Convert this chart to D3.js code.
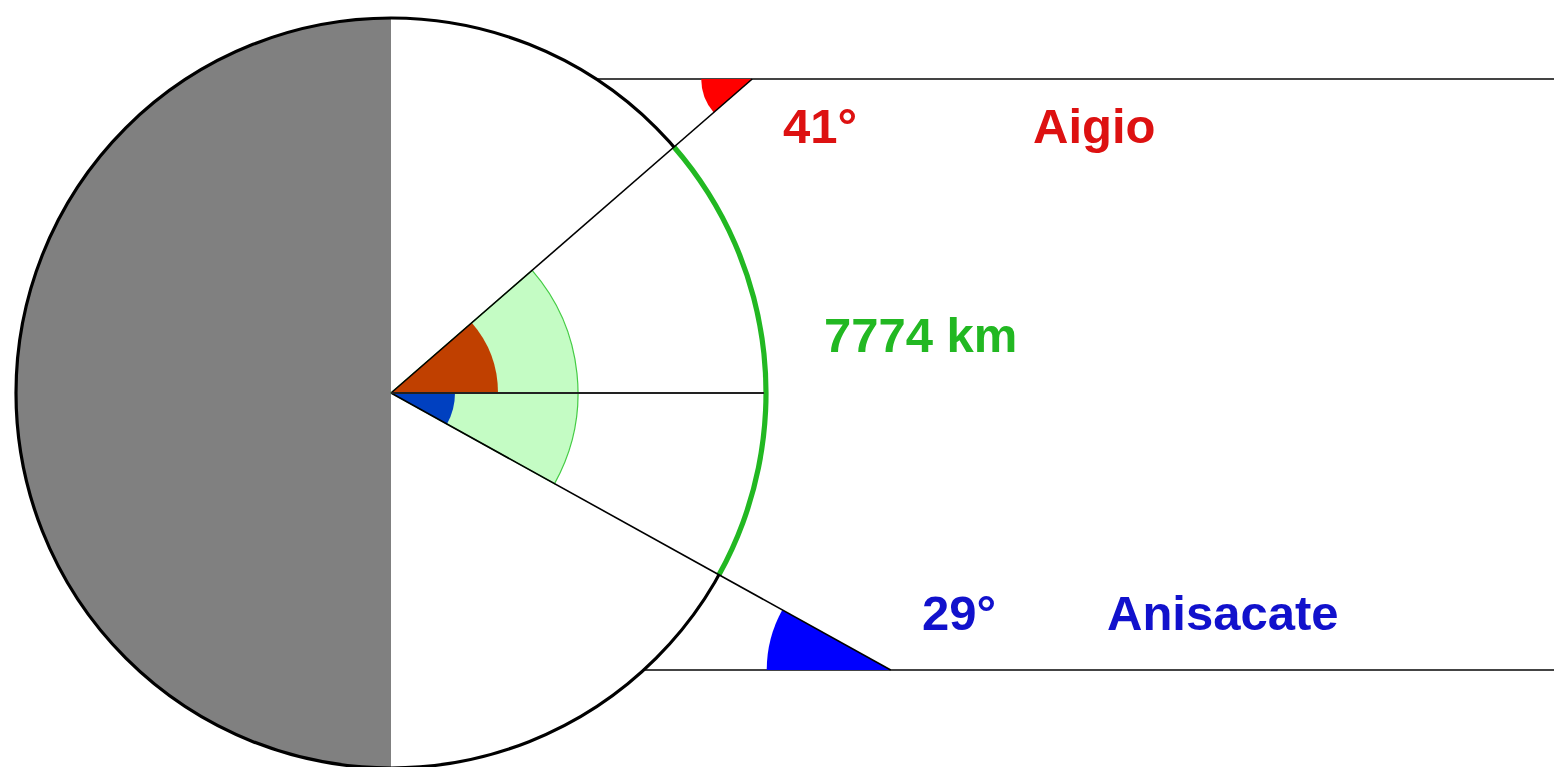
<!DOCTYPE html>
<html>
<head>
<meta charset="utf-8">
<script src="https://cdn.jsdelivr.net/npm/d3@7"></script>
<style>
  body { margin: 0; background: #fff; }
  svg { display: block; }
  text { font-family: Arial, "Liberation Sans", sans-serif; font-weight: bold; }
</style>
</head>
<body>
<div id="chart"></div>
<script>
// Data
const places = ["Aigio", "Anisacate"];
const sunAngles = [41, 29];          // degrees above / below the horizon line
const angleLabels = ["41°", "29°"];
const distanceLabel = "7774 km";

const width = 1554;
const height = 767;

const svg = d3.select("#chart")
  .append("svg")
    .attr("width", width)
    .attr("height", height);

// geometry
const cx = 391, cy = 393, R = 375;
const rayY = [79, 670];               // y of the two sun rays
const deg = d => d * Math.PI / 180;

// direction of each radius, d3.arc convention (0 = up, clockwise)
const dirTop = deg(90 - sunAngles[0]);
const dirBottom = deg(90 + sunAngles[1]);

// Earth: grey night side
svg.append("path")
  .attr("d", d3.arc()({innerRadius: 0, outerRadius: R, startAngle: Math.PI, endAngle: 2 * Math.PI}))
  .attr("transform", `translate(${cx},${cy})`)
  .attr("fill", "#808080");

// sun rays (horizontal lines starting on the circle)
rayY.forEach(y => {
  const dy = y - cy;
  const x0 = cx + Math.sqrt(R * R - dy * dy);
  svg.append("line")
    .attr("x1", x0).attr("y1", y)
    .attr("x2", width).attr("y2", y)
    .attr("stroke", "#444")
    .attr("stroke-width", 2.2);
});

const center = svg.append("g").attr("transform", `translate(${cx},${cy})`);

// light green central angle
center.append("path")
  .attr("d", d3.arc()({innerRadius: 0, outerRadius: 187, startAngle: dirTop, endAngle: dirBottom}))
  .attr("fill", "#c4fcc4")
  .attr("stroke", "#44cc44")
  .attr("stroke-width", 1.2);

// brown & blue parts
center.append("path")
  .attr("d", d3.arc()({innerRadius: 0, outerRadius: 107, startAngle: dirTop, endAngle: Math.PI / 2}))
  .attr("fill", "#c04000");
center.append("path")
  .attr("d", d3.arc()({innerRadius: 0, outerRadius: 64, startAngle: Math.PI / 2, endAngle: dirBottom}))
  .attr("fill", "#0040c0");

// circle outline
svg.append("circle")
  .attr("cx", cx).attr("cy", cy).attr("r", R)
  .attr("fill", "none")
  .attr("stroke", "#000")
  .attr("stroke-width", 3.2);

// green arc on the surface (on top of the outline)
svg.append("path")
  .attr("d", d3.arc()({innerRadius: R - 2.6, outerRadius: R + 2.6, startAngle: dirTop, endAngle: dirBottom}))
  .attr("transform", `translate(${cx},${cy})`)
  .attr("fill", "#22b822");

// radii to the rays
const ends = [
  [cx + (cy - rayY[0]) / Math.tan(deg(sunAngles[0])), rayY[0]],
  [cx + (rayY[1] - cy) / Math.tan(deg(sunAngles[1])), rayY[1]]
];

// angle wedges at ray intersections
svg.append("path")
  .attr("d", d3.arc()({innerRadius: 0, outerRadius: 51, startAngle: deg(270 - sunAngles[0]), endAngle: deg(270)}))
  .attr("transform", `translate(${ends[0][0]},${ends[0][1]})`)
  .attr("fill", "#ff0000");
svg.append("path")
  .attr("d", d3.arc()({innerRadius: 0, outerRadius: 124, startAngle: deg(270), endAngle: deg(270 + sunAngles[1])}))
  .attr("transform", `translate(${ends[1][0]},${ends[1][1]})`)
  .attr("fill", "#0000ff");

ends.forEach(([x, y]) => {
  svg.append("line")
    .attr("x1", cx).attr("y1", cy)
    .attr("x2", x).attr("y2", y)
    .attr("stroke", "#000")
    .attr("stroke-width", 1.6);
});
// horizontal radius
svg.append("line")
  .attr("x1", cx).attr("y1", cy)
  .attr("x2", cx + R - 2).attr("y2", cy)
  .attr("stroke", "#222")
  .attr("stroke-width", 2);

// labels
const labelData = [
  {t: angleLabels[0], x: 783, y: 143, c: "#dd1111"},
  {t: places[0], x: 1033, y: 143, c: "#dd1111"},
  {t: distanceLabel, x: 824, y: 352, c: "#22b822"},
  {t: angleLabels[1], x: 922, y: 630, c: "#1111cc"},
  {t: places[1], x: 1107, y: 630, c: "#1111cc"}
];
svg.selectAll("text.lbl")
  .data(labelData)
  .join("text")
    .attr("class", "lbl")
    .attr("x", d => d.x)
    .attr("y", d => d.y)
    .attr("fill", d => d.c)
    .attr("font-size", 49)
    .text(d => d.t);
</script>
</body>
</html>
